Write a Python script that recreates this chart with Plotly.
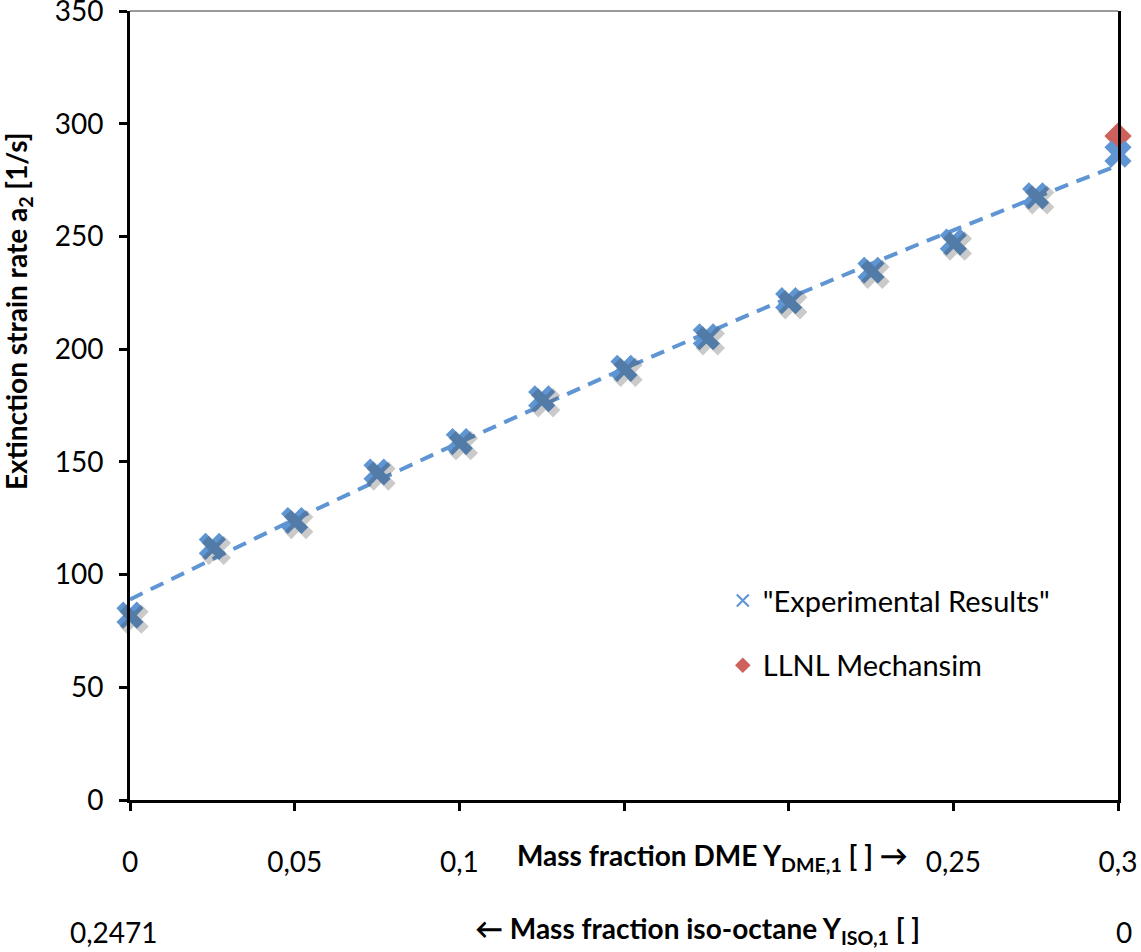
import numpy as np
import plotly.graph_objects as go

# ---- data ----
x_dme = [0, 0.025, 0.05, 0.075, 0.1, 0.125, 0.15, 0.175, 0.2, 0.225, 0.25, 0.275, 0.3]
a2_exp = [82, 112.5, 124, 145.5, 159, 178, 191.5, 205.5, 221.5, 235, 247.5, 268, 286.5]
x_llnl = [0.3]
a2_llnl = [294.5]
x_tickvals = [0, 0.05, 0.1, 0.25, 0.3]
x_ticktext = ["0", "0,05", "0,1", "0,25", "0,3"]
x_minor_ticks = [0.15, 0.2]
y_tickvals = [0, 50, 100, 150, 200, 250, 300, 350]

BLUE = "#5E95D2"
RED = "#CF615C"
FONT = "Lato"

# polynomial trendline (as in the spreadsheet), derived from the data
coef = np.polyfit(x_dme, a2_exp, 2)
xt = np.linspace(min(x_dme), max(x_dme), 61)
yt = np.polyval(coef, xt)

XR = [0, 0.3]
YR = [0, 350]
# shadow offset through a shifted overlay axis (about 4 px)
dx = (XR[1] - XR[0]) / 988 * 4
dy = (YR[1] - YR[0]) / 789 * 4

fig = go.Figure()

# shadows
fig.add_trace(go.Scatter(x=x_dme, y=a2_exp, mode="markers", xaxis="x2", yaxis="y2",
                         marker=dict(symbol="x", size=26, color="rgba(50,50,50,0.26)", line=dict(width=0)),
                         showlegend=False, hoverinfo="skip", cliponaxis=False))

fig.add_trace(go.Scatter(x=x_llnl, y=a2_llnl, mode="markers", cliponaxis=False,
                         marker=dict(symbol="diamond", size=21, color=RED, line=dict(width=0)),
                         showlegend=False))
fig.add_trace(go.Scatter(x=x_dme, y=a2_exp, mode="markers", cliponaxis=False,
                         marker=dict(symbol="x", size=24, color=BLUE, line=dict(width=0)),
                         showlegend=False))
fig.add_trace(go.Scatter(x=xt, y=yt, mode="lines",
                         line=dict(color=BLUE, width=4, dash="14px,9px"),
                         showlegend=False, hoverinfo="skip"))

# legend entries
fig.add_trace(go.Scatter(x=[None], y=[None], mode="markers", name='"Experimental Results"',
                         legendgroup="a",
                         marker=dict(symbol="x-thin-open", size=20, color=BLUE, line=dict(width=2.5, color=BLUE))))
fig.add_trace(go.Scatter(x=[None], y=[None], mode="markers", name="LLNL Mechansim",
                         legendgroup="b",
                         marker=dict(symbol="diamond", size=19, color=RED)))

fig.update_layout(
    width=1141, height=952,
    margin=dict(l=130, r=23, t=11, b=152, autoexpand=False),
    paper_bgcolor="white", plot_bgcolor="white",
    font=dict(family=FONT, size=28, color="black"),
    xaxis=dict(range=XR, tickvals=x_tickvals, ticktext=x_ticktext, ticks="outside",
               ticklen=8, tickwidth=2.5, tickcolor="black", showgrid=False, zeroline=False,
               showline=True, linecolor="black", linewidth=3, ticklabelstandoff=27,
               tickfont=dict(size=28), automargin=False, ticklabeloverflow="allow",
               minor=dict(tickvals=x_minor_ticks, ticks="outside", ticklen=8, tickwidth=2.5,
                          tickcolor="black", showgrid=False)),
    yaxis=dict(range=YR, tickvals=y_tickvals, ticks="outside", ticklen=8, tickwidth=2.5,
               tickcolor="black", showgrid=False, zeroline=False, showline=True,
               linecolor="black", linewidth=3, mirror=True, ticklabelstandoff=10,
               tickfont=dict(size=28), automargin=False, ticklabeloverflow="allow"),
    xaxis2=dict(range=[XR[0] - dx, XR[1] - dx], overlaying="x", visible=False),
    yaxis2=dict(range=[YR[0] + dy, YR[1] + dy], overlaying="y", visible=False),
    legend=dict(x=0.6, y=0.285, xanchor="left", yanchor="top", bgcolor="rgba(0,0,0,0)",
                font=dict(size=29), tracegroupgap=24, traceorder="grouped",
                itemsizing="constant"),
    showlegend=True,
)

# gray top border
fig.add_shape(type="line", xref="paper", yref="paper", x0=0, x1=1, y0=1, y1=1,
              line=dict(color="#999999", width=2))

ann = [
    dict(text="<b>Extinction strain rate a<sub>2</sub> [1/s]</b>", x=18, y=311, textangle=-90, size=28),
    dict(text="<b>Mass fraction DME Y<sub>DME,1</sub> [ ] →</b>", x=712, y=857, size=28),
    dict(text="<b>← Mass fraction iso-octane Y<sub>ISO,1</sub> [ ]</b>", x=697, y=930, size=28),
    dict(text="0,2471", x=114, y=932, size=28),
    dict(text="0", x=1124, y=932, size=28),
]
for a in ann:
    fig.add_annotation(text=a["text"], xref="paper", yref="paper",
                       x=(a["x"] - 130) / 988,
                       y=(800 - a["y"]) / 789, xanchor="center", yanchor="middle",
                       textangle=a.get("textangle", 0), showarrow=False,
                       font=dict(size=a["size"], family=FONT, color="black"))

fig.write_html("out.html")
